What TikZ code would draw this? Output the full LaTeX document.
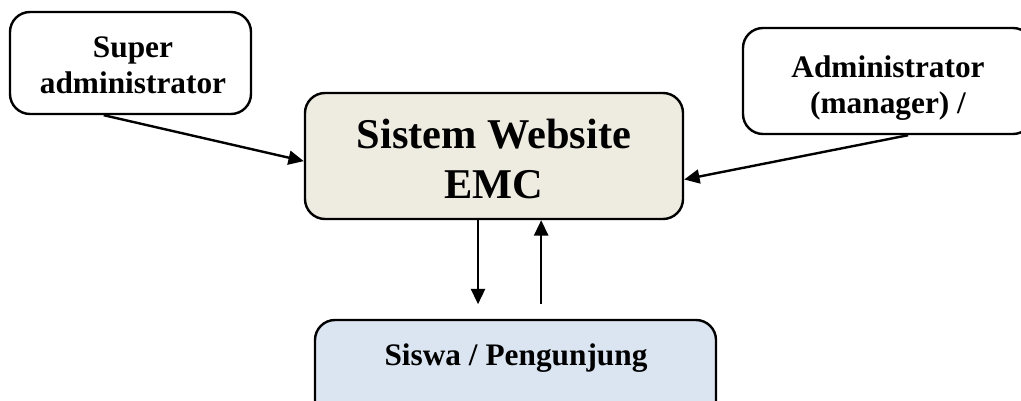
\documentclass[tikz,border=0pt]{standalone}
\usepackage{fontspec}
\setmainfont{Liberation Serif}
\usetikzlibrary{calc,arrows.meta}
\definecolor{mainfill}{HTML}{EEECE1}
\definecolor{userfill}{HTML}{DBE5F1}
\begin{document}
\begin{tikzpicture}[x=0.75pt,y=-0.75pt,
  box/.style={draw=black,line width=1.8pt,rounded corners=15pt,inner sep=0pt},
  lbl/.style={font=\bfseries\fontsize{23.5}{27}\selectfont,align=center,inner sep=0pt},
  biglbl/.style={font=\bfseries\fontsize{31.8}{37.5}\selectfont,align=center,inner sep=0pt},
  conn/.style={line width=1.8pt,-{Triangle[length=11.5pt,width=10.5pt]}}]
\useasboundingbox (0,0) rectangle (1021,400);
% boxes
\node[box,fill=white,minimum width=241*0.75pt,minimum height=102*0.75pt] (sa) at (130.5,63) {};
\node[lbl] (satext) at (133,65) {Super\\administrator};
\node[box,fill=mainfill,minimum width=378*0.75pt,minimum height=126*0.75pt] (main) at (494,156) {};
\node[biglbl] (maintext) at (494,159) {Sistem Website\\EMC};
\node[box,fill=white,minimum width=290*0.75pt,minimum height=106*0.75pt] (ad) at (888,81) {};
\node[lbl] (adtext) at (888,88) {Administrator\\(manager) /};
\node[box,fill=userfill,minimum width=401*0.75pt,minimum height=110*0.75pt] (user) at (515.5,375) {};
\node[lbl] (usertext) at (516,358) {Siswa / Pengunjung};
% connectors
\coordinate (downend) at ($(main.south west)!0.458!(main.south east)+(0,84)$);
\coordinate (upstart) at ($(main.south west)!0.624!(main.south east)+(0,84)$);
\draw[conn] ($(sa.south west)!0.39!(sa.south east)$) -- ($(main.north west)!0.54!(main.south west)$);
\draw[conn] ($(ad.south west)!0.569!(ad.south east)$) -- ($(main.north east)!0.683!(main.south east)$);
\draw[conn] ($(main.south west)!0.458!(main.south east)$) -- (downend);
\draw[conn] (upstart) -- ($(main.south west)!0.624!(main.south east)$);
\end{tikzpicture}
\end{document}
